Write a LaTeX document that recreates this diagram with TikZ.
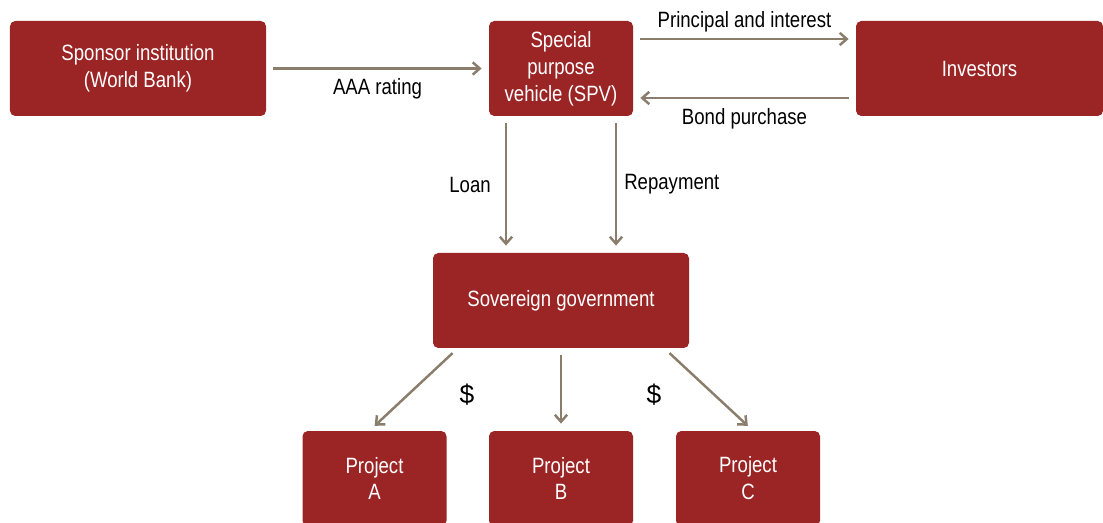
\documentclass[tikz,border=0pt]{standalone}
\usepackage{fontspec}
\setmainfont{Liberation Sans}[FakeStretch=0.84]
\newfontfamily\dollarfont{Liberation Sans}
\usetikzlibrary{arrows.meta,positioning}
\definecolor{boxred}{HTML}{9B2425}
\definecolor{flow}{HTML}{8B7D6B}
\tikzset{
  box/.style={fill=boxred,rounded corners=3pt,text=white,align=center,inner sep=2pt,
    minimum width=5.12cm,minimum height=1.9cm,font=\fontsize{12.6}{15.3}\selectfont},
  sbox/.style={box,minimum width=2.88cm},
  ar/.style={-{Straight Barb[length=4pt,width=7pt]},line width=1.4pt,draw=flow,
    shorten <=4pt,shorten >=4pt},
  lbl/.style={font=\fontsize{12.6}{14}\selectfont,inner sep=2pt},
}
\begin{document}
\begin{tikzpicture}
\useasboundingbox (0,0) rectangle (22.06,-10.46);
\clip (0,0) rectangle (22.06,-10.46);
\node[box] (sponsor) at (2.76,-1.37) {Sponsor institution\\(World Bank)};
\node[sbox] (spv) at (11.22,-1.37) {Special\\purpose\\vehicle (SPV)};
\node[box,minimum width=4.94cm] (inv) at (19.59,-1.37) {Investors};
\node[box] (sov) at (11.22,-6.01) {Sovereign government};
\node[sbox] (pa) at (7.49,-9.57) {Project\\A};
\node[sbox] (pb) at (11.22,-9.57) {Project\\B};
\node[sbox] (pc) at (14.96,-9.57) {Project\\C};

\draw[ar] (sponsor.east) -- (spv.west) node[lbl,pos=0.5,below=3pt] {AAA rating};
\draw[ar] ([yshift=0.59cm]spv.east) -- ([yshift=0.59cm]inv.west)
  node[lbl,midway,above=1pt] {Principal and interest};
\draw[ar] ([yshift=-0.59cm]inv.west) -- ([yshift=-0.59cm]spv.east)
  node[lbl,midway,below=3pt] {Bond purchase};
\draw[ar] ([xshift=-1.1cm]spv.south) -- ([xshift=-1.1cm]sov.north)
  node[lbl,midway,left=6pt] {Loan};
\draw[ar] ([xshift=1.1cm]spv.south) -- ([xshift=1.1cm]sov.north)
  node[lbl,midway,right=2pt] {Repayment};
\draw[ar] ([xshift=0.5cm]sov.south west) -- ([xshift=-0.1cm]pa.north);
\draw[ar] (sov.south) -- (pb.north);
\draw[ar] ([xshift=-0.5cm]sov.south east) -- ([xshift=0.1cm]pc.north);
\node[font=\dollarfont\fontsize{15}{15}\selectfont] (d1) at (9.34,-7.9) {\$};
\node[font=\dollarfont\fontsize{15}{15}\selectfont] (d2) at (13.08,-7.9) {\$};
\end{tikzpicture}
\end{document}
